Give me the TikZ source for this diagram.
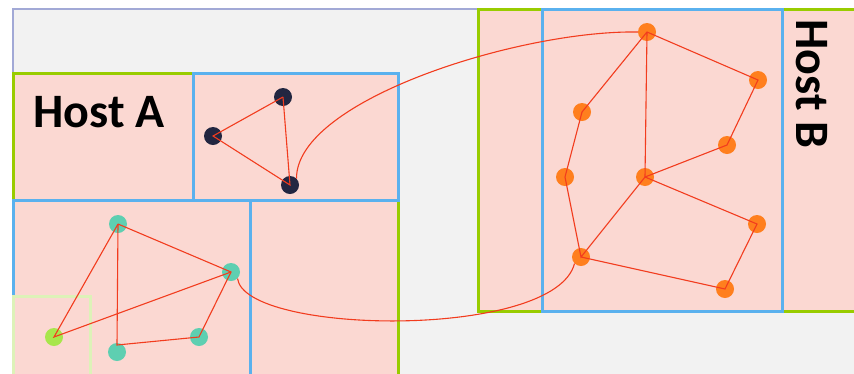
\documentclass[tikz,border=0pt]{standalone}
\usepackage{fontspec}
\setmainfont{Carlito}
\begin{document}
\begin{tikzpicture}[x=1pt,y=-1pt,
  pinkbox/.style={fill=pinkf},
  bluel/.style={draw=blueb,line width=3pt},
  greenl/.style={draw=greenb,line width=3pt},
  edge/.style={draw=redl,line width=1.1pt},
  dk/.style={circle,fill=darkn,minimum size=18pt,inner sep=0pt},
  tl/.style={circle,fill=tealn,minimum size=18pt,inner sep=0pt},
  lg/.style={circle,fill=limen,minimum size=18pt,inner sep=0pt},
  og/.style={circle,fill=orangen,minimum size=18pt,inner sep=0pt},
  hostlabel/.style={font=\bfseries\fontsize{48}{48}\selectfont}]
\definecolor{pinkf}{HTML}{FBD8D2}
\definecolor{blueb}{HTML}{5AB1EE}
\definecolor{greenb}{HTML}{99CC00}
\definecolor{redl}{HTML}{F23C1E}
\definecolor{grayb}{HTML}{F2F2F2}
\definecolor{purb}{HTML}{A2A9D6}
\definecolor{darkn}{HTML}{222641}
\definecolor{tealn}{HTML}{5ECFB1}
\definecolor{limen}{HTML}{A8E64C}
\definecolor{orangen}{HTML}{FF7F1E}
\definecolor{paleg}{HTML}{DDF2B8}
\useasboundingbox (0,0) rectangle (854,373);
\begin{scope}
\clip (0,0) rectangle (854,373);
% outer
\fill[white] (0,0) rectangle (854,373);
\fill[grayb] (13,9) rectangle (860,380);
\draw[purb,line width=2.6pt] (13,380) -- (13,9) -- (478,9);
% Host A
\fill[pinkf] (13,73) rectangle (398,380);
\draw[greenl] (13,200) -- (13,73) -- (193,73);
\draw[greenl] (398,200) -- (398,380);
\draw[bluel] (193,73) rectangle (398,200);
\draw[bluel] (13,380) -- (13,200) -- (398,200);
\draw[bluel] (250,200) -- (250,380);
\draw[paleg,line width=3pt] (13,380) -- (13,296) -- (90,296) -- (90,380);
% Host B
\fill[pinkf] (478,9) rectangle (860,311);
\draw[greenl] (860,9) -- (478,9) -- (478,311) -- (860,311);
\draw[bluel] (542,9) rectangle (782,311);
\end{scope}
\node[hostlabel,anchor=center] (ha) at (99,112) {Host A};
\node[hostlabel,rotate=-90,anchor=center] (hb) at (812,84) {Host B};
% Host A VM nodes
\node[dk] (a1) at (283,97) {};
\node[dk] (a2) at (213,136) {};
\node[dk] (a3) at (290,185) {};
\draw[edge] (a1.center) -- (a2.center) -- (a3.center) -- (a1.center);
% bottom-left VM nodes
\node[tl] (b1) at (118,224) {};
\node[tl] (b2) at (231,272) {};
\node[tl] (b3) at (199,337) {};
\node[tl] (b4) at (117,352) {};
\node[lg] (b5) at (54,337) {};
\draw[edge] (b1.center) -- (b5.center) -- (b2.center);
\draw[edge] (b1.center) -- (b2.center) -- (b3.center) -- (117,345) -- (b1.center);
% Host B nodes
\node[og] (c1) at (647,32) {};
\node[og] (c2) at (582,112) {};
\node[og] (c3) at (758,80) {};
\node[og] (c4) at (727,145) {};
\node[og] (c5) at (565,177) {};
\node[og] (c6) at (645,177) {};
\node[og] (c7) at (757,224) {};
\node[og] (c8) at (581,257) {};
\node[og] (c9) at (725,289) {};
\draw[edge] (c2.center) -- (c1.center) -- (c3.center) -- (c4.center) -- (c6.center) -- (c1.center);
\draw[edge] (c2.center) -- (c5.center) -- (c8.center) -- (c6.center) -- (c7.center) -- (c9.center) -- (c8.center);
% inter-host links
\draw[edge] (a3.north east) .. controls (296,100) and (520,30) .. (c1.west);
\draw[edge] (b2.south east) .. controls (245,335) and (555,340) .. (c8.south west);
\end{tikzpicture}
\end{document}
